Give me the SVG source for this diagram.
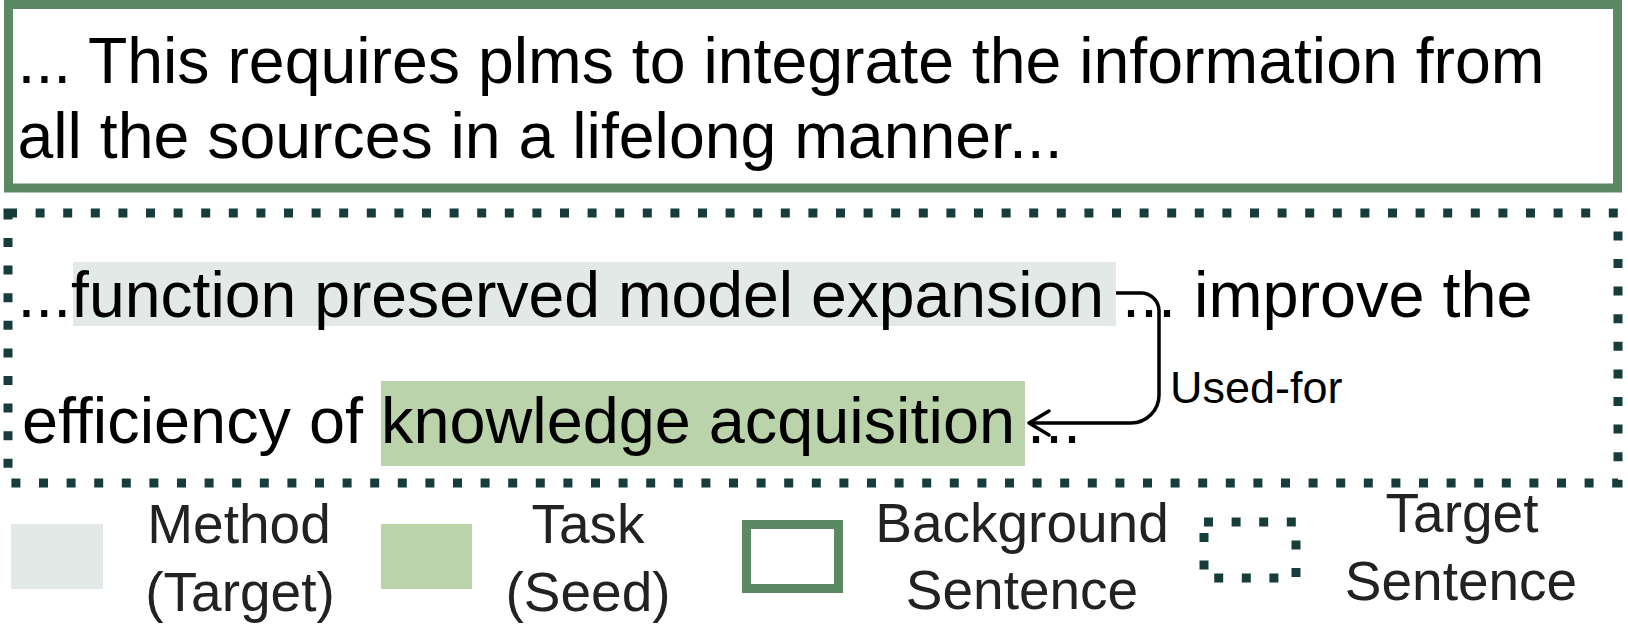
<svg xmlns="http://www.w3.org/2000/svg" width="1628" height="642" viewBox="0 0 1628 642">
  <style>
    .main { font-family: "Liberation Sans", Arial, sans-serif; font-size: 64.4px; fill: #000; }
    .tgt { font-family: "Liberation Sans", Arial, sans-serif; font-size: 64.8px; fill: #000; }
    .tgt1 { font-family: "Liberation Sans", Arial, sans-serif; font-size: 64.3px; fill: #000; }
    .leg { font-family: "Liberation Sans", Arial, sans-serif; font-size: 55px; fill: #222; text-anchor: middle; }
    .lbl { font-family: "Liberation Sans", Arial, sans-serif; font-size: 45px; fill: #000; }
    .bg { fill: none; stroke: #5b8963; stroke-width: 9; }
    .dot { fill: none; stroke: #173c3c; stroke-width: 9; stroke-dasharray: 9 18.6; }
    .method { fill: #e2e9e6; }
    .task { fill: #bbd3aa; }
    .edge { fill: none; stroke: #000; stroke-width: 3.5; }
  </style>
  <defs>
    <marker id="arrow" markerUnits="userSpaceOnUse" viewBox="-24 -16 28 32" markerWidth="28" markerHeight="32" refX="0" refY="0" orient="auto">
      <path d="M-20,-12 L0,0 L-20,12" fill="none" stroke="#000" stroke-width="3.5" stroke-linecap="round" stroke-linejoin="round"/>
    </marker>
  </defs>
  <rect width="1628" height="642" fill="#fff"/>

  <g id="background-sentence">
    <rect class="bg" x="8.5" y="4.5" width="1609" height="183.5"/>
    <text class="main" x="17.5" y="83">... This requires plms to integrate the information from</text>
    <text class="main" x="17.5" y="158">all the sources in a lifelong manner...</text>
  </g>

  <g id="target-sentence">
    <rect class="dot" x="8" y="213" width="1610" height="270"/>
    <rect class="method" x="73" y="262" width="1043" height="64"/>
    <rect class="task" x="381" y="381" width="644" height="85"/>
    <text class="tgt1" x="17.5" y="317">...function preserved model expansion</text>
    <text class="tgt" x="1122" y="317">... improve the</text>
    <text class="tgt" x="22" y="443">efficiency of knowledge acquisition</text>
    <text class="tgt" x="1027" y="443">...</text>
  </g>

  <g id="connectors">
    <path class="edge" d="M1116,293 H1141 A18,18 0 0 1 1159,311 V395 A28,28 0 0 1 1131,423 H1029" marker-end="url(#arrow)"/>
    <text class="lbl" x="1170" y="403">Used-for</text>
  </g>

  <g id="legend-method">
    <rect class="method" x="11" y="524" width="92" height="65"/>
    <text class="leg" x="239" y="543">Method</text>
    <text class="leg" x="240" y="611">(Target)</text>
  </g>
  <g id="legend-task">
    <rect class="task" x="381" y="524" width="91" height="65"/>
    <text class="leg" x="588" y="543">Task</text>
    <text class="leg" x="588" y="611">(Seed)</text>
  </g>
  <g id="legend-background">
    <rect class="bg" x="746.5" y="524.5" width="92" height="64"/>
    <text class="leg" x="1022" y="542">Background</text>
    <text class="leg" x="1022" y="609">Sentence</text>
  </g>
  <g id="legend-target">
    <rect class="dot" x="1204" y="522" width="92" height="56"/>
    <text class="leg" x="1462" y="532">Target</text>
    <text class="leg" x="1461" y="600">Sentence</text>
  </g>
</svg>
